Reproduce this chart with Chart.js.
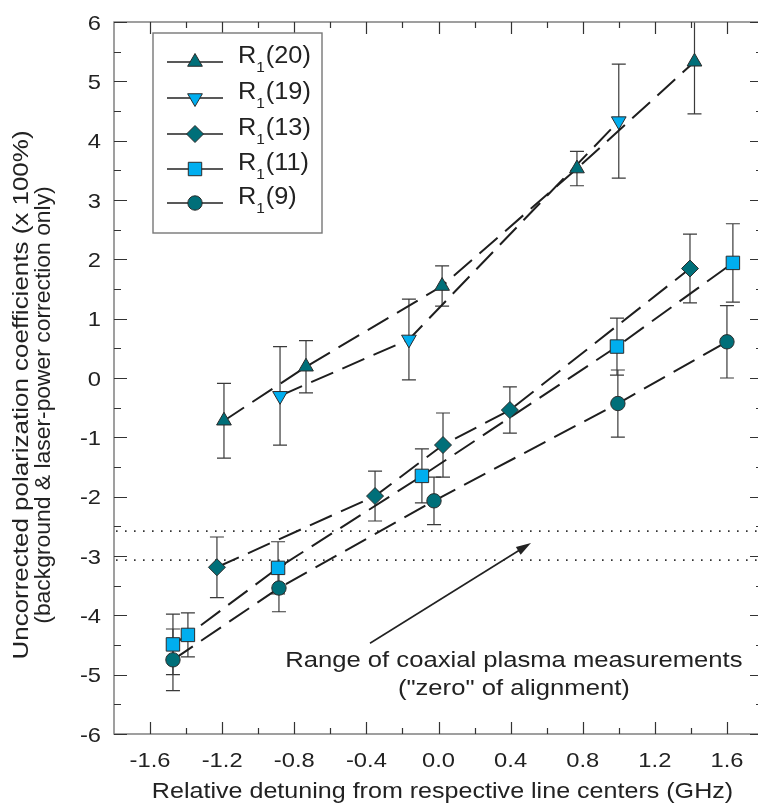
<!DOCTYPE html>
<html><head><meta charset="utf-8">
<script src="https://cdn.jsdelivr.net/npm/chart.js@4/dist/chart.umd.min.js"></script>
<style>html,body{margin:0;padding:0;overflow:hidden;background:#fff}#wrap{position:relative;width:764px;height:805px}</style>
</head><body><div id="wrap"><canvas id="c"></canvas></div>
<script>
// ---- data ----
const seriesNames = ['R1(20)', 'R1(19)', 'R1(13)', 'R1(11)', 'R1(9)'];
const r20X = [-1.19, -0.735, 0.02, 0.768, 1.42];
const r20Y = [-0.72, 0.19, 1.55, 3.53, 5.33];
const r20Err = [0.63, 0.44, 0.34, 0.29, 0.88];
const r19X = [-0.879, -0.164, 1.0];
const r19Y = [-0.30, 0.65, 4.33];
const r19Err = [0.83, 0.68, 0.96];
const r13X = [-1.229, -0.352, 0.025, 0.396, 1.395];
const r13Y = [-3.19, -1.99, -1.13, -0.54, 1.845];
const r13Err = [0.51, 0.42, 0.54, 0.39, 0.58];
const r11X = [-1.473, -1.39, -0.89, -0.092, 0.99, 1.633];
const r11Y = [-4.49, -4.33, -3.20, -1.65, 0.53, 1.94];
const r11Err = [0.51, 0.37, 0.44, 0.455, 0.48, 0.66];
const r9X = [-1.473, -0.885, -0.025, 0.995, 1.6];
const r9Y = [-4.75, -3.54, -2.07, -0.43, 0.61];
const r9Err = [0.52, 0.40, 0.40, 0.565, 0.61];
const rangeLines = [-2.58, -3.07];
const xMajorTicks = [-1.6, -1.2, -0.8, -0.4, 0, 0.4, 0.8, 1.2, 1.6];
const xTickLabels = ['-1.6', '-1.2', '-0.8', '-0.4', '0.0', '0.4', '0.8', '1.2', '1.6'];
const xMinorTicks = [-1.4, -1.0, -0.6, -0.2, 0.2, 0.6, 1.0, 1.4];
const yMajorTicks = [-6, -5, -4, -3, -2, -1, 0, 1, 2, 3, 4, 5, 6];
const yTickLabels = ['-6', '-5', '-4', '-3', '-2', '-1', '0', '1', '2', '3', '4', '5', '6'];
const yMinorTicks = [-5.5, -4.5, -3.5, -2.5, -1.5, -0.5, 0.5, 1.5, 2.5, 3.5, 4.5, 5.5];
const xTitle = 'Relative detuning from respective line centers (GHz)';
const yTitle = ['Uncorrected polarization coefficients (x 100%)', '(background & laser-power correction only)'];
const noteText = ['Range of coaxial plasma measurements', '("zero" of alignment)'];

// ---- styles ----
const TEAL = '#006f79', CYAN = '#00aeef', INK = '#222222', FONT = '"Liberation Sans", Arial, sans-serif';
const specs = [
  {x: r20X, y: r20Y, e: r20Err, style: 'triangle', rot: 0, color: TEAL, r: 8.5},
  {x: r19X, y: r19Y, e: r19Err, style: 'triangle', rot: 180, color: CYAN, r: 8.5},
  {x: r13X, y: r13Y, e: r13Err, style: 'rectRot', rot: 0, color: TEAL, r: 8.5},
  {x: r11X, y: r11Y, e: r11Err, style: 'rect', rot: 0, color: CYAN, r: 9.5},
  {x: r9X, y: r9Y, e: r9Err, style: 'circle', rot: 0, color: TEAL, r: 7.2}
];

function txt(ctx, s, x, y, size, sx, align, base, rot) {
  ctx.save();
  ctx.translate(x, y);
  if (rot) ctx.rotate(rot);
  ctx.scale(sx, 1);
  ctx.font = size + 'px ' + FONT;
  ctx.fillStyle = INK;
  ctx.textAlign = align;
  ctx.textBaseline = base;
  ctx.fillText(s, 0, 0);
  ctx.restore();
}

const decor = {
  id: 'decor',
  beforeDatasetsDraw(chart) {
    const {ctx, chartArea: a, scales: {x, y}} = chart;
    ctx.save();
    // dotted range lines
    ctx.strokeStyle = '#333';
    ctx.lineWidth = 1.6;
    ctx.setLineDash([1.6, 7.4]);
    rangeLines.forEach(v => {
      const py = y.getPixelForValue(v);
      ctx.beginPath(); ctx.moveTo(a.left + 2, py); ctx.lineTo(a.right, py); ctx.stroke();
    });
    ctx.setLineDash([]);
    // error bars
    ctx.beginPath(); ctx.rect(a.left, a.top, a.right - a.left, a.bottom - a.top); ctx.clip();
    ctx.strokeStyle = '#3a3a3a';
    ctx.lineWidth = 1.2;
    specs.forEach(s => {
      s.x.forEach((xv, i) => {
        const px = x.getPixelForValue(xv);
        const t = y.getPixelForValue(s.y[i] + s.e[i]);
        const b = y.getPixelForValue(s.y[i] - s.e[i]);
        ctx.beginPath();
        ctx.moveTo(px, t); ctx.lineTo(px, b);
        ctx.moveTo(px - 7, t); ctx.lineTo(px + 7, t);
        ctx.moveTo(px - 7, b); ctx.lineTo(px + 7, b);
        ctx.stroke();
      });
    });
    ctx.restore();
  },
  afterDraw(chart) {
    const {ctx, chartArea: a, scales: {x, y}} = chart;
    ctx.save();
    // frame
    ctx.strokeStyle = '#777';
    ctx.lineWidth = 1.4;
    ctx.strokeRect(a.left, a.top, a.right - a.left, a.bottom - a.top);
    // ticks
    ctx.strokeStyle = '#333';
    ctx.lineWidth = 1.2;
    ctx.beginPath();
    const xt = (v, len) => {
      const px = Math.round(x.getPixelForValue(v)) + 0.5;
      ctx.moveTo(px, a.bottom); ctx.lineTo(px, a.bottom - len);
      ctx.moveTo(px, a.top); ctx.lineTo(px, a.top + len);
    };
    const yt = (v, len) => {
      const py = Math.round(y.getPixelForValue(v)) + 0.5;
      ctx.moveTo(a.left, py); ctx.lineTo(a.left + len, py);
      ctx.moveTo(a.right, py); ctx.lineTo(a.right - len, py);
    };
    xMajorTicks.forEach(v => xt(v, 12));
    xMinorTicks.forEach(v => xt(v, 6));
    yMajorTicks.forEach(v => yt(v, 13));
    yMinorTicks.forEach(v => yt(v, 7));
    ctx.stroke();
    // tick labels
    xMajorTicks.forEach((v, i) => txt(ctx, xTickLabels[i], x.getPixelForValue(v), a.bottom + 33, 21, 1.13, 'center', 'alphabetic'));
    yMajorTicks.forEach((v, i) => txt(ctx, yTickLabels[i], a.left - 13, y.getPixelForValue(v) + 7.5, 21, 1.13, 'right', 'alphabetic'));
    // axis titles
    txt(ctx, xTitle, (a.left + a.right) / 2 + 4, a.bottom + 64, 22, 1.14, 'center', 'alphabetic');
    txt(ctx, yTitle[0], 22, 395, 22, 1.18, 'center', 'middle', -Math.PI / 2);
    txt(ctx, yTitle[1], 44, 405, 22, 1.04, 'center', 'middle', -Math.PI / 2);
    // annotation arrow
    const tail = {x: x.getPixelForValue(-0.38), y: y.getPixelForValue(-4.47)};
    const tip = {x: x.getPixelForValue(0.513), y: y.getPixelForValue(-2.78)};
    ctx.strokeStyle = INK; ctx.fillStyle = INK; ctx.lineWidth = 1.6;
    const ang = Math.atan2(tip.y - tail.y, tip.x - tail.x);
    ctx.beginPath(); ctx.moveTo(tail.x, tail.y);
    ctx.lineTo(tip.x - 10 * Math.cos(ang), tip.y - 10 * Math.sin(ang)); ctx.stroke();
    ctx.beginPath();
    ctx.moveTo(tip.x, tip.y);
    ctx.lineTo(tip.x - 15 * Math.cos(ang) + 4.5 * Math.sin(ang), tip.y - 15 * Math.sin(ang) - 4.5 * Math.cos(ang));
    ctx.lineTo(tip.x - 15 * Math.cos(ang) - 4.5 * Math.sin(ang), tip.y - 15 * Math.sin(ang) + 4.5 * Math.cos(ang));
    ctx.closePath(); ctx.fill();
    const nx = x.getPixelForValue(0.418);
    txt(ctx, noteText[0], nx, y.getPixelForValue(-4.87), 22, 1.165, 'center', 'alphabetic');
    txt(ctx, noteText[1], nx, y.getPixelForValue(-5.34), 22, 1.165, 'center', 'alphabetic');
    // legend
    const L = {x: 153, y: 33, w: 169, h: 200};
    ctx.fillStyle = '#fff'; ctx.fillRect(L.x, L.y, L.w, L.h);
    ctx.strokeStyle = '#777'; ctx.lineWidth = 1.4; ctx.strokeRect(L.x, L.y, L.w, L.h);
    const rows = [62, 98, 134, 169, 203];
    specs.forEach((s, i) => {
      const ry = rows[i];
      ctx.strokeStyle = INK; ctx.lineWidth = 1.6;
      ctx.beginPath(); ctx.moveTo(167, ry); ctx.lineTo(223, ry); ctx.stroke();
      ctx.fillStyle = s.color; ctx.strokeStyle = '#2b2b2b'; ctx.lineWidth = 1;
      Chart.helpers.drawPoint(ctx, {pointStyle: s.style, rotation: s.rot, radius: s.r, borderWidth: 1}, 195, ry);
      const name = seriesNames[i];
      const main = name.slice(0, 1), sub = name.slice(1, 2), rest = name.slice(2);
      ctx.font = '23px ' + FONT;
      const wR = ctx.measureText(main).width * 1.1;
      txt(ctx, main, 238, ry + 1, 23, 1.1, 'left', 'alphabetic');
      ctx.font = '14px ' + FONT;
      const wS = ctx.measureText(sub).width * 1.1;
      txt(ctx, sub, 238 + wR, ry + 10, 14, 1.1, 'left', 'alphabetic');
      txt(ctx, rest, 238 + wR + wS + 1, ry + 1, 23, 1.1, 'left', 'alphabetic');
    });
    ctx.restore();
  }
};

new Chart(document.getElementById('c'), {
  type: 'line',
  data: {
    datasets: specs.map((s, i) => ({
      label: seriesNames[i],
      data: s.x.map((xv, j) => ({x: xv, y: s.y[j]})),
      borderColor: '#1e1e1e',
      borderWidth: 2,
      borderDash: [24, 10],
      tension: 0,
      fill: false,
      pointStyle: s.style,
      pointRotation: s.rot,
      pointRadius: s.r,
      pointHoverRadius: s.r,
      pointBackgroundColor: s.color,
      pointBorderColor: '#2b2b2b',
      pointBorderWidth: 1
    }))
  },
  options: {
    responsive: true,
    maintainAspectRatio: false,
    animation: false,
    events: [],
    layout: {autoPadding: false, padding: {left: 0, top: 22, right: 1, bottom: 0}},
    plugins: {legend: {display: false}, tooltip: {enabled: false}},
    scales: {
      x: {type: 'linear', min: -1.8, max: 1.8, grid: {display: false}, border: {display: false},
          ticks: {display: false}, afterFit: s => { s.height = 71; }},
      y: {type: 'linear', min: -6, max: 6, grid: {display: false}, border: {display: false},
          ticks: {display: false}, afterFit: s => { s.width = 114; }}
    }
  },
  plugins: [decor]
});
</script></body></html>
